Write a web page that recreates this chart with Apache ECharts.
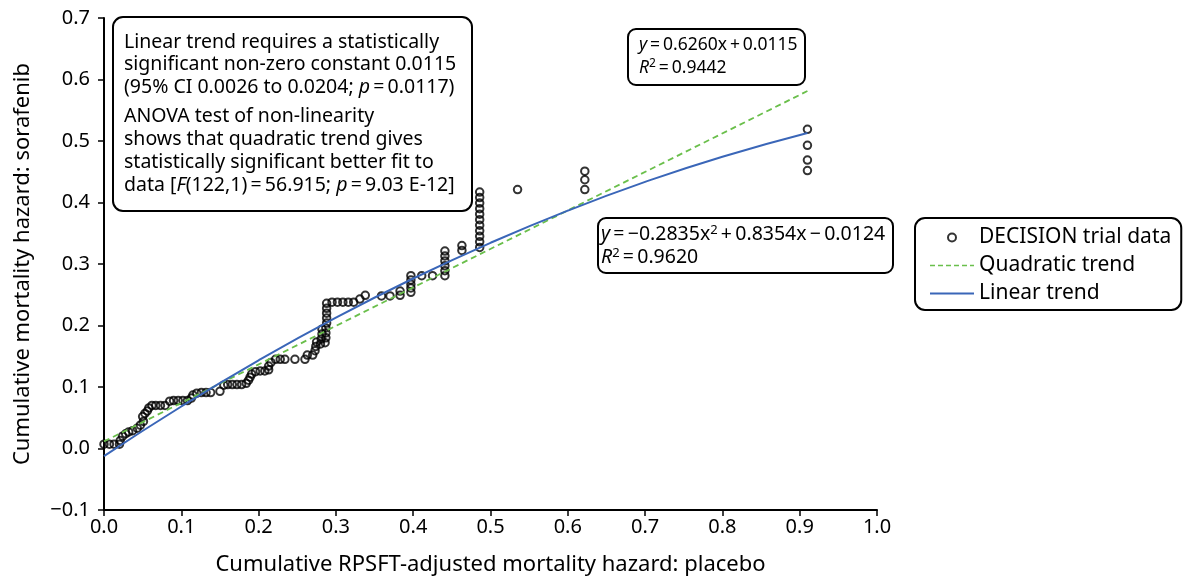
<!DOCTYPE html>
<html><head><meta charset="utf-8">
<script src="https://cdn.jsdelivr.net/npm/echarts@6/dist/echarts.min.js"></script>
<style>html,body{margin:0;padding:0;background:#fff}#c{width:1198px;height:581px}</style>
</head><body><div id="c"></div>
<script>
// Scatter data: DECISION trial data (x = placebo hazard, y = sorafenib hazard)
const trialX = [0.0,0.007,0.013,0.02,0.021,0.024,0.028,0.032,0.037,0.043,0.047,0.051,0.05,0.053,0.056,0.058,0.062,0.067,0.073,0.079,0.085,0.09,0.096,0.102,0.108,0.113,0.115,0.12,0.126,0.132,0.138,0.15,0.155,0.16,0.166,0.172,0.178,0.184,0.187,0.189,0.191,0.196,0.202,0.208,0.213,0.213,0.216,0.222,0.228,0.234,0.247,0.26,0.263,0.27,0.273,0.274,0.275,0.28,0.281,0.282,0.282,0.286,0.287,0.287,0.287,0.288,0.288,0.288,0.288,0.288,0.295,0.302,0.309,0.316,0.323,0.331,0.338,0.359,0.37,0.383,0.383,0.397,0.397,0.397,0.397,0.397,0.411,0.425,0.441,0.441,0.441,0.441,0.441,0.441,0.463,0.463,0.486,0.486,0.486,0.486,0.486,0.486,0.486,0.486,0.486,0.486,0.486,0.535,0.622,0.622,0.622,0.91,0.91,0.91,0.91];
const trialY = [0.007,0.007,0.007,0.007,0.013,0.02,0.024,0.027,0.029,0.033,0.038,0.044,0.052,0.057,0.061,0.066,0.07,0.07,0.07,0.07,0.077,0.078,0.078,0.078,0.078,0.082,0.087,0.09,0.091,0.091,0.091,0.093,0.103,0.104,0.104,0.104,0.104,0.106,0.111,0.116,0.121,0.125,0.126,0.126,0.128,0.134,0.14,0.145,0.145,0.145,0.145,0.145,0.152,0.152,0.159,0.166,0.173,0.17,0.178,0.186,0.194,0.172,0.18,0.188,0.196,0.204,0.212,0.22,0.228,0.236,0.238,0.238,0.238,0.238,0.238,0.243,0.249,0.248,0.248,0.249,0.256,0.254,0.261,0.267,0.274,0.281,0.281,0.281,0.281,0.289,0.297,0.305,0.313,0.321,0.322,0.33,0.327,0.336,0.345,0.354,0.363,0.372,0.381,0.39,0.399,0.408,0.417,0.421,0.421,0.437,0.451,0.452,0.469,0.493,0.519];
// Trend lines
const quadTrendX = [0, 0.91];
const quadTrendY = [0.0115, 0.5812];
const linTrendX = [0, 0.1, 0.2, 0.3, 0.4, 0.5, 0.6, 0.7, 0.8, 0.91];
const linTrendY = [-0.0124, 0.0683, 0.1433, 0.2127, 0.2764, 0.3344, 0.3868, 0.4335, 0.4745, 0.5131];
const seriesNames = ['DECISION trial data', 'Quadratic trend', 'Linear trend'];
const xTicks = {min: 0, max: 1, interval: 0.1};
const yTicks = {min: -0.1, max: 0.7, interval: 0.1};

const GREEN = '#6abf4b', BLUE = '#3a66b8';
const zip = (a, b) => a.map((v, i) => [v, b[i]]);
const FONT = '"Noto Sans", "Open Sans", sans-serif';
const chart = echarts.init(document.getElementById('c'), null, {renderer: 'canvas'});
const fmt = v => (v < 0 ? '\u2212' + Math.abs(v).toFixed(1) : v.toFixed(1));
const mkRich = ts => ({
  i: {fontStyle: 'italic', fontSize: ts, fontFamily: FONT, color: '#000'},
  s: {fontSize: Math.round(ts * 0.68), fontFamily: FONT, color: '#000', padding: [0, 0, 9, 0]}
});
const TS = 19.5, TS2 = 17.5;

chart.setOption({
  animation: false,
  backgroundColor: '#fff',
  textStyle: {fontFamily: FONT, color: '#000'},
  grid: {left: 104, right: 321, top: 18, bottom: 69, containLabel: false},
  xAxis: {
    type: 'value', min: xTicks.min, max: xTicks.max, interval: xTicks.interval,
    name: 'Cumulative RPSFT-adjusted mortality hazard: placebo',
    nameLocation: 'middle', nameGap: 44,
    nameTextStyle: {fontSize: 22, color: '#000', fontFamily: FONT},
    axisLine: {onZero: false, lineStyle: {color: '#000', width: 2}},
    axisTick: {show: true, length: 6, lineStyle: {color: '#000', width: 1.5}},
    axisLabel: {formatter: fmt, fontSize: 20, color: '#000', margin: 7, fontFamily: FONT},
    splitLine: {show: false}
  },
  yAxis: {
    type: 'value', min: yTicks.min, max: yTicks.max, interval: yTicks.interval,
    name: 'Cumulative mortality hazard: sorafenib',
    nameLocation: 'middle', nameGap: 70,
    nameTextStyle: {fontSize: 22, color: '#000', fontFamily: FONT},
    axisLine: {lineStyle: {color: '#000', width: 2}},
    axisTick: {show: true, length: 6, lineStyle: {color: '#000', width: 1.5}},
    axisLabel: {formatter: fmt, fontSize: 20, color: '#000', margin: 14, fontFamily: FONT},
    splitLine: {show: false}
  },
  legend: {
    orient: 'vertical', left: 915, top: 218,
    padding: [9, 10, 6, 14], itemGap: 7,
    itemWidth: 44, itemHeight: 8,
    borderColor: '#000', borderWidth: 2, borderRadius: 10,
    textStyle: {fontSize: 21, color: '#000', fontFamily: FONT},
    data: [
      {name: seriesNames[0]},
      {name: seriesNames[1], itemStyle: {color: 'rgba(0,0,0,0)', borderWidth: 0}, lineStyle: {color: GREEN, width: 1.6, type: [5, 3]}},
      {name: seriesNames[2], itemStyle: {color: 'rgba(0,0,0,0)', borderWidth: 0}, lineStyle: {color: BLUE, width: 2}}
    ]
  },
  series: [
    {
      name: seriesNames[0], type: 'scatter', data: zip(trialX, trialY),
      symbol: 'circle', symbolSize: 7.5, z: 2,
      itemStyle: {color: 'rgba(255,255,255,0)', borderColor: '#000', borderWidth: 2}
    },
    {
      name: seriesNames[1], type: 'line', data: zip(quadTrendX, quadTrendY),
      symbol: 'none', z: 3,
      lineStyle: {color: GREEN, width: 1.8, type: [6, 4]},
      itemStyle: {color: GREEN}
    },
    {
      name: seriesNames[2], type: 'line', data: zip(linTrendX, linTrendY),
      symbol: 'none', smooth: true, z: 4,
      lineStyle: {color: BLUE, width: 2},
      itemStyle: {color: BLUE}
    }
  ],
  graphic: [
    {type: 'rect', shape: {x: 113, y: 17, width: 359, height: 194, r: 10},
     style: {fill: '#fff', stroke: '#000', lineWidth: 2}, z: 10},
    {type: 'text', left: 124, top: 31, z: 11,
     style: {text: 'Linear trend requires a statistically\nsignificant non-zero constant 0.0115\n(95% CI 0.0026 to 0.0204; {i|p}\u2009=\u20090.0117)',
       font: TS + 'px ' + FONT, fill: '#000', lineHeight: 22.5, rich: mkRich(TS)}},
    {type: 'text', left: 124, top: 105, z: 11,
     style: {text: 'ANOVA test of non-linearity\nshows that quadratic trend gives\nstatistically significant better fit to\ndata [{i|F}(122,1)\u2009=\u200956.915; {i|p}\u2009=\u20099.03 E-12]',
       font: TS + 'px ' + FONT, fill: '#000', lineHeight: 23, rich: mkRich(TS)}},
    {type: 'rect', shape: {x: 628, y: 29, width: 177, height: 56, r: 8},
     style: {fill: '#fff', stroke: '#000', lineWidth: 2}, z: 10},
    {type: 'text', left: 639, top: 34, z: 11,
     style: {text: '{i|y}\u2009=\u20090.6260x\u2009+\u20090.0115\n{i|R}{s|2}\u2009=\u20090.9442',
       font: TS2 + 'px ' + FONT, fill: '#000', lineHeight: 23, rich: mkRich(TS2)}},
    {type: 'rect', shape: {x: 598, y: 218, width: 295, height: 55, r: 8},
     style: {fill: '#fff', stroke: '#000', lineWidth: 2}, z: 10},
    {type: 'text', left: 601, top: 223, z: 11,
     style: {text: '{i|y}\u2009=\u2009\u22120.2835x{s|2}\u2009+\u20090.8354x\u2009\u2212\u20090.0124\n{i|R}{s|2}\u2009=\u20090.9620',
       font: TS + 'px ' + FONT, fill: '#000', lineHeight: 23, rich: mkRich(TS)}}
  ]
});
</script></body></html>
